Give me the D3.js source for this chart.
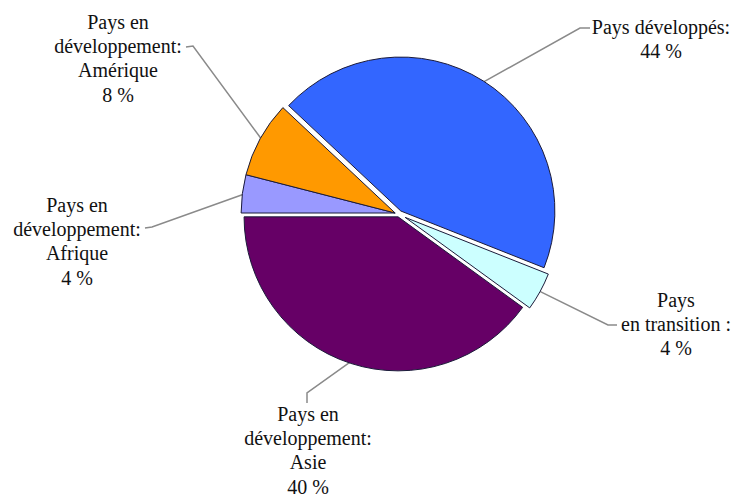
<!DOCTYPE html>
<html>
<head>
<meta charset="utf-8">
<script src="https://cdn.jsdelivr.net/npm/d3@7"></script>
<style>
  html, body { margin: 0; padding: 0; background: #fff; }
  svg { display: block; }
  svg text { font-family: 'Tinos', 'Liberation Serif', 'FreeSerif', monospace !important; }
</style>
</head>
<body>
<script>
// ---- data ----
const categories = [
  "Pays développés",
  "Pays en transition",
  "Pays en développement: Asie",
  "Pays en développement: Afrique",
  "Pays en développement: Amérique"
];
const values = [44, 4, 40, 4, 8];
const labelLines = [
  ["Pays développés:", "44 %"],
  ["Pays", "en transition :", "4 %"],
  ["Pays en", "développement:", "Asie", "40 %"],
  ["Pays en", "développement:", "Afrique", "4 %"],
  ["Pays en", "développement:", "Amérique", "8 %"]
];
const colors = ["#3366FF", "#CCFFFF", "#660066", "#9999FF", "#FF9900"];

// ---- layout ----
const W = 736, H = 498;
const cx = 399, cy = 214, R = 154;
const fontSize = 20, lineH = 24.2;
const fontFamily = "'Tinos', 'Liberation Serif', 'FreeSerif', monospace";
const startDeg = -46.8;
const explode = [
  {m: 3.5, dir: null},
  {m: 7, dir: null},
  {m: 3, dir: null},
  {m: 4, dir: 284.4},
  {m: 4, dir: 284.4}
];
const labelPos = [
  {x: 661, y: 34, stub: [590, 28, 580, 28]},
  {x: 676, y: 307, stub: [617, 325, 608, 325]},
  {x: 308, y: 421, stub: [307, 403, 307, 393]},
  {x: 77, y: 212, stub: [145, 228, 152, 227]},
  {x: 118, y: 29, stub: [186, 47, 193, 46]}
];

const svg = d3.select("body").append("svg")
  .attr("width", W).attr("height", H);

const rad = d => d * Math.PI / 180;
const pie = d3.pie().sort(null)
  .startAngle(rad(startDeg)).endAngle(rad(startDeg + 360));
const arcs = pie(values);
const arc = d3.arc().innerRadius(0).outerRadius(R);

function offsetOf(d, i) {
  const e = explode[i];
  const a = e.dir === null ? (d.startAngle + d.endAngle) / 2 : rad(e.dir);
  return [e.m * Math.sin(a), -e.m * Math.cos(a)];
}

const leaders = svg.append("g");
arcs.forEach((d, i) => {
  const [ox, oy] = offsetOf(d, i);
  const mid = (d.startAngle + d.endAngle) / 2;
  const px = cx + ox + (R - 2) * Math.sin(mid);
  const py = cy + oy - (R - 2) * Math.cos(mid);
  const s = labelPos[i].stub;
  leaders.append("polyline")
    .attr("points", [[s[0], s[1]], [s[2], s[3]], [px, py]].map(p => p.join(",")).join(" "))
    .attr("fill", "none")
    .attr("stroke", "#8a8a8a")
    .attr("stroke-width", 1.5);
});

const g = svg.append("g");
arcs.forEach((d, i) => {
  const [ox, oy] = offsetOf(d, i);
  g.append("path")
    .attr("transform", `translate(${cx + ox},${cy + oy})`)
    .attr("d", arc(d))
    .attr("fill", colors[i])
    .attr("stroke", "#1b1b3a")
    .attr("stroke-width", 1)
    .attr("stroke-linejoin", "round");
});

labelLines.forEach((lines, i) => {
  lines.forEach((ln, j) => {
    const t = svg.append("text")
      .attr("x", labelPos[i].x)
      .attr("y", labelPos[i].y + j * lineH)
      .attr("font-family", fontFamily)
      .style("font-family", fontFamily, "important")
      .attr("font-size", fontSize)
      .attr("fill", "#111")
      .text(ln);
    const len = t.node().getComputedTextLength();
    t.attr("x", labelPos[i].x - len / 2);
  });
});
</script>
</body>
</html>
